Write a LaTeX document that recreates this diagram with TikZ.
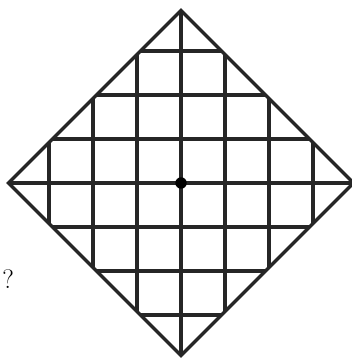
\documentclass[tikz,border=0pt]{standalone}
\usepackage{tikz}
\usetikzlibrary{positioning, calc}

\tikzset{
  gridline/.style={line width=3.1pt, black!85},
  rim/.style={line width=2.1pt, black!85, line join=miter},
}

\begin{document}
\begin{tikzpicture}[thick,>=latex]

    % Frame (keeps the page size)
    \useasboundingbox (-4.114,-4.0) rectangle (3.886,4.159);

    \def\R{3.92}

    % Grid lines inside the diamond
    \foreach \k in {-3,...,3} {
        \draw[gridline] (\k,{-(\R-abs(\k))}) -- (\k,{\R-abs(\k)});
        \draw[gridline] ({-(\R-abs(\k))},\k) -- ({\R-abs(\k)},\k);
    }

    % Diamond outline
    \draw[rim] (0,\R) -- (\R,0) -- (0,-\R) -- (-\R,0) -- cycle;

    % Centre dot
    \node[circle, fill=black, inner sep=0pt, minimum size=0.26cm] (centre) at (0,0) {};

    % Question mark
    \node (ask) at (-3.93,-2.18) {\LARGE ?};

\end{tikzpicture}
\end{document}
